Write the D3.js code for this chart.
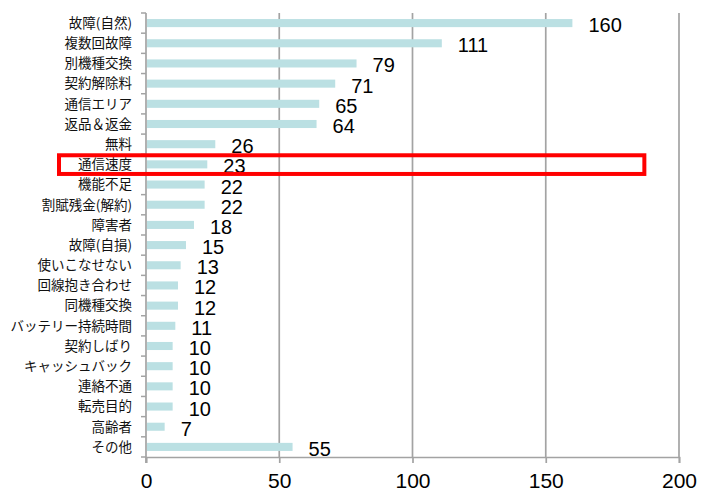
<!DOCTYPE html>
<html>
<head>
<meta charset="utf-8">
<script src="https://cdn.jsdelivr.net/npm/d3@7"></script>
<style>
  body { margin: 0; background: #fff; }
  svg text { font-family: "Liberation Sans", Arial, sans-serif; }
  .cat text { font-family: "Noto Sans CJK JP", sans-serif; }
</style>
</head>
<body>
<div id="chart"></div>
<script>
var categories = [
  "故障(自然)", "複数回故障", "別機種交換", "契約解除料", "通信エリア",
  "返品＆返金", "無料", "通信速度", "機能不足", "割賦残金(解約)",
  "障害者", "故障(自損)", "使いこなせない", "回線抱き合わせ", "同機種交換",
  "バッテリー持続時間", "契約しばり", "キャッシュバック", "連絡不通", "転売目的",
  "高齢者", "その他"
];
var counts = [160, 111, 79, 71, 65, 64, 26, 23, 22, 22, 18, 15, 13, 12, 12, 11, 10, 10, 10, 10, 7, 55];
var xTicks = [0, 50, 100, 150, 200];
var highlight = "通信速度";
var highlightEnd = 187;

var width = 701, height = 494;
var margin = { top: 13, right: 22, bottom: 37, left: 146 };

var svg = d3.select("#chart").append("svg")
  .attr("width", width)
  .attr("height", height);

var x = d3.scaleLinear()
  .domain([0, 200])
  .range([margin.left, width - margin.right]);

var y = d3.scaleBand()
  .domain(categories)
  .range([margin.top, height - margin.bottom])
  .paddingInner(0.6)
  .paddingOuter(0.3);

var grey = "#a3a3a3";

// vertical gridlines
svg.append("g")
  .selectAll("line")
  .data(xTicks.slice(1))
  .enter()
  .append("line")
  .attr("x1", function(d) { return x(d); })
  .attr("x2", function(d) { return x(d); })
  .attr("y1", margin.top)
  .attr("y2", height - margin.bottom)
  .attr("stroke", grey)
  .attr("stroke-width", 1.7);

// bottom axis
var xAxis = svg.append("g")
  .attr("transform", "translate(0," + (height - margin.bottom) + ")")
  .call(d3.axisBottom(x).tickValues(xTicks).tickSize(6).tickPadding(10));
xAxis.select(".domain").attr("stroke", grey).attr("stroke-width", 1.7);
xAxis.selectAll(".tick line").attr("stroke", grey).attr("stroke-width", 1.7);
xAxis.selectAll("text")
  .attr("font-size", 21)
  .attr("fill", "#000")
  .attr("font-family", "Liberation Sans, Arial, sans-serif");

// left axis: ticks on band boundaries
var yAxis = svg.append("g").attr("class", "cat");
var bounds = d3.range(categories.length + 1).map(function(i) {
  return y.range()[0] + i * (y.range()[1] - y.range()[0]) / categories.length;
});
yAxis.append("line")
  .attr("x1", margin.left).attr("x2", margin.left)
  .attr("y1", margin.top).attr("y2", height - margin.bottom + 6)
  .attr("stroke", grey).attr("stroke-width", 1.7);
yAxis.selectAll(".tk")
  .data(bounds)
  .enter()
  .append("line")
  .attr("class", "tk")
  .attr("x1", margin.left - 5).attr("x2", margin.left)
  .attr("y1", function(d) { return d; })
  .attr("y2", function(d) { return d; })
  .attr("stroke", grey).attr("stroke-width", 1.5);
yAxis.selectAll("text")
  .data(categories)
  .enter()
  .append("text")
  .attr("x", margin.left - 14)
  .attr("y", function(d) { return y(d) + y.bandwidth() / 2; })
  .attr("dy", "0.36em")
  .attr("text-anchor", "end")
  .attr("font-size", 13.5)
  .attr("fill", "#111")
  .text(function(d) { return d; });

// bars
svg.append("g")
  .selectAll("rect")
  .data(categories)
  .enter()
  .append("rect")
  .attr("x", x(0) + 1)
  .attr("y", function(d) { return y(d); })
  .attr("width", function(d, i) { return x(counts[i]) - x(0) - 1; })
  .attr("height", y.bandwidth())
  .attr("fill", "#bbe0e3");

// value labels
svg.append("g")
  .selectAll("text")
  .data(categories)
  .enter()
  .append("text")
  .attr("x", function(d, i) { return x(counts[i]) + 16; })
  .attr("y", function(d) { return y(d) + y.bandwidth() / 2 + 2; })
  .attr("dy", "0.35em")
  .attr("font-size", 20)
  .attr("fill", "#000")
  .text(function(d, i) { return counts[i]; });

// highlight box
var hi = categories.indexOf(highlight);
svg.append("rect")
  .attr("x", 59)
  .attr("y", bounds[hi] + 1)
  .attr("width", x(highlightEnd) - 59)
  .attr("height", bounds[hi + 1] - bounds[hi] - 1.5)
  .attr("fill", "none")
  .attr("stroke", "#ff0000")
  .attr("stroke-width", 4);
</script>
</body>
</html>
